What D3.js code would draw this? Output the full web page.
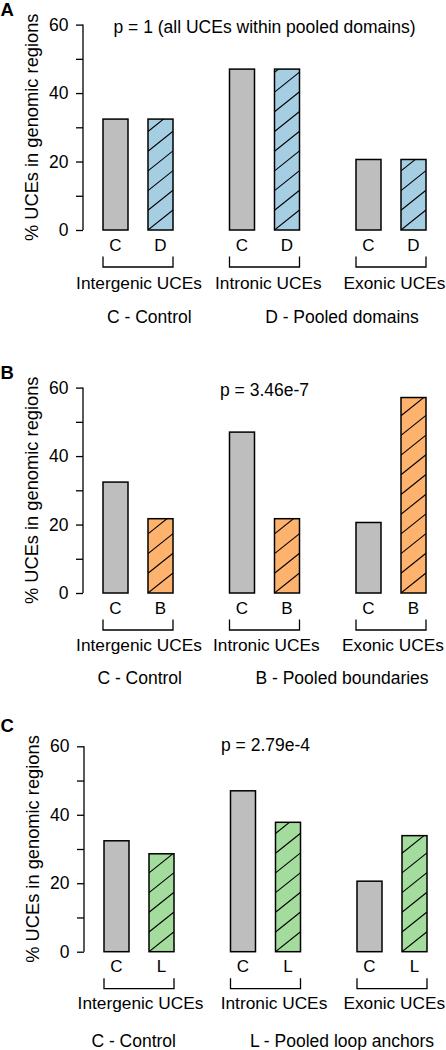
<!DOCTYPE html>
<html>
<head>
<meta charset="utf-8">
<script src="https://cdn.jsdelivr.net/npm/d3@7"></script>
<style>
  html, body { margin: 0; padding: 0; background: #fff; }
  svg { display: block; }
  text { font-family: "Liberation Sans", Arial, Helvetica, sans-serif; fill: #000; }
</style>
</head>
<body>
<svg id="chart" width="446" height="1050"></svg>
<script>
// ---------------- data ----------------
const groups = ["Intergenic UCEs", "Intronic UCEs", "Exonic UCEs"];
const controlValues = [32.4, 47.0, 20.6];
const pooledDomainValues = [32.4, 47.0, 20.6];
const pooledBoundaryValues = [21.7, 21.7, 57.1];
const pooledLoopAnchorValues = [28.6, 37.8, 33.9];
const panelLetters = ["A", "B", "C"];
const testCodes = ["D", "B", "L"];
const pLabels = ["p = 1 (all UCEs within pooled domains)", "p = 3.46e-7", "p = 2.79e-4"];
const controlLegend = "C - Control";
const testLegends = ["D - Pooled domains", "B - Pooled boundaries", "L - Pooled loop anchors"];
const yTickValues = [0, 10, 20, 30, 40, 50, 60];
const yTickLabels = [0, 20, 40, 60];
const yTitle = "% UCEs in genomic regions";

// ---------------- styling / layout ----------------
const testValues = [pooledDomainValues, pooledBoundaryValues, pooledLoopAnchorValues];
const testColors = ["#a6cee3", "#fdb36e", "#a3dc9c"];
const controlColor = "#bebebe";
const zeroY = [230, 593, 951.7];
const titleY = [33, 396, 750.7];
const letterY = [15.5, 378.5, 731.7];
const groupLabelY = [289, 650.7, 1009];
const legendY = [323.3, 683.5, 1046.7];
const legend1X = [149.3, 139.7, 133.7];
const legend2X = 342;
const groupLabelDx = [[1, 3.8, 3.5], [1, 1.8, 2], [1.5, 8.5, 2.3]];
const xShift = [0, 0, 1];
const plotH = 205.4;

const svg = d3.select("#chart");

const xGroup = d3.scaleBand().domain(groups).range([103, 426]).paddingInner(0.4466).paddingOuter(0);
const xInner = d3.scaleBand().domain(["C", "T"]).range([0, xGroup.bandwidth()]).paddingInner(20 / 45).paddingOuter(0);

const defs = svg.append("defs");

panelLetters.forEach((letter, pi) => {
  const g = svg.append("g").attr("transform", `translate(${xShift[pi]},0)`);
  const y = d3.scaleLinear().domain([0, 60]).range([zeroY[pi], zeroY[pi] - plotH]);

  // panel letter
  svg.append("text").attr("x", 0.5).attr("y", letterY[pi])
    .attr("font-size", 18.5).attr("font-weight", "bold").text(letter);

  // y axis
  const axis = d3.axisLeft(y).tickValues(yTickValues).tickSize(7).tickPadding(7.5)
    .tickFormat(d => yTickLabels.includes(d) ? d : "");
  const ag = g.append("g").attr("transform", "translate(83,0)").call(axis);
  ag.select(".domain").attr("d", `M0,${y(60)}V${y(0)}`).attr("stroke", "#000").attr("stroke-width", 1.3);
  ag.selectAll(".tick line").attr("stroke", "#000").attr("stroke-width", 1.3);
  ag.selectAll(".tick text").attr("font-size", 17.5).attr("font-family", "Liberation Sans, Arial, sans-serif").attr("fill", "#000");

  // y title
  g.append("text")
    .attr("transform", `translate(38,${(y(0) + y(60)) / 2}) rotate(-90)`)
    .attr("text-anchor", "middle").attr("font-size", 18.3).text(yTitle);

  // p-value title
  g.append("text").attr("x", 264.5).attr("y", titleY[pi])
    .attr("text-anchor", "middle").attr("font-size", 17.5).text(pLabels[pi]);

  const data = [];
  groups.forEach((grp, gi) => {
    data.push({ grp, gi, key: "C", value: controlValues[gi], code: "C" });
    data.push({ grp, gi, key: "T", value: testValues[pi][gi], code: testCodes[pi] });
  });

  const slope = 0.8, spacing = 19.7;
  data.forEach((d, i) => {
    const x0 = xGroup(d.grp) + xInner(d.key);
    const w = xInner.bandwidth();
    const yTop = y(d.value), yBot = y(0);
    const fill = d.key === "C" ? controlColor : testColors[pi];
    g.append("rect").attr("x", x0).attr("y", yTop).attr("width", w).attr("height", yBot - yTop)
      .attr("fill", fill);
    if (d.key === "T") {
      const cid = `clip-${pi}-${i}`;
      defs.append("clipPath").attr("id", cid)
        .append("rect").attr("x", x0).attr("y", yTop).attr("width", w).attr("height", yBot - yTop);
      const hg = g.append("g").attr("clip-path", `url(#${cid})`);
      const n = Math.ceil((yBot - yTop) / spacing) + 1;
      for (let k = 0; k <= n; k++) {
        hg.append("line")
          .attr("x1", x0).attr("y1", yBot - k * spacing)
          .attr("x2", x0 + w).attr("y2", yBot - k * spacing - slope * w)
          .attr("stroke", "#000").attr("stroke-width", 1.1);
      }
    }
    g.append("rect").attr("x", x0).attr("y", yTop).attr("width", w).attr("height", yBot - yTop)
      .attr("fill", "none").attr("stroke", "#000").attr("stroke-width", 1.5);
    // code letter
    g.append("text").attr("x", x0 + w / 2).attr("y", yBot + 20.5)
      .attr("text-anchor", "middle").attr("font-size", 17).text(d.code);
  });

  // brackets + group labels
  groups.forEach((grp, gi) => {
    const xa = xGroup(grp), xb = xGroup(grp) + xGroup.bandwidth();
    const yb = y(0);
    g.append("path")
      .attr("d", `M${xa},${yb + 26.5}V${yb + 37}H${xb}V${yb + 26.5}`)
      .attr("fill", "none").attr("stroke", "#000").attr("stroke-width", 1.3);
    g.append("text").attr("x", (xa + xb) / 2 + groupLabelDx[pi][gi]).attr("y", groupLabelY[pi])
      .attr("text-anchor", "middle").attr("font-size", 17.3).text(grp);
  });

  // legend texts
  svg.append("text").attr("x", legend1X[pi]).attr("y", legendY[pi])
    .attr("text-anchor", "middle").attr("font-size", 17.5).text(controlLegend);
  svg.append("text").attr("x", legend2X).attr("y", legendY[pi])
    .attr("text-anchor", "middle").attr("font-size", 17.5).text(testLegends[pi]);
});
</script>
</body>
</html>
